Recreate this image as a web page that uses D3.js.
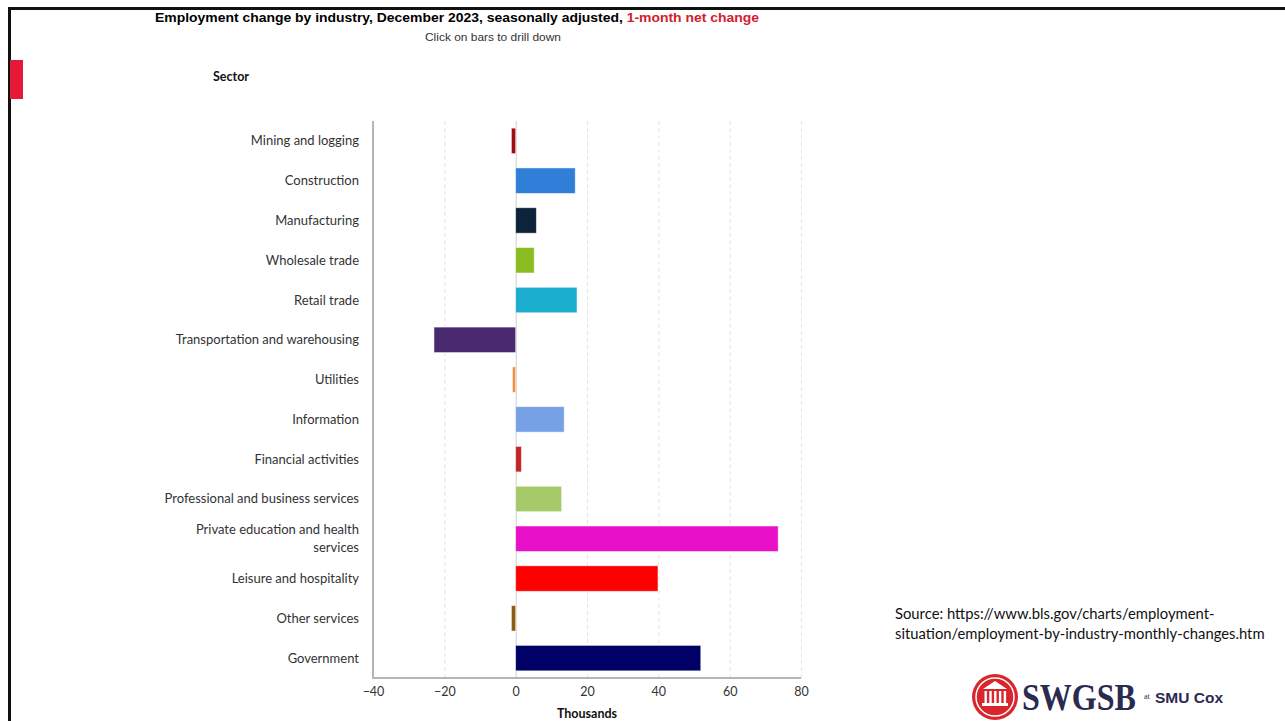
<!DOCTYPE html>
<html>
<head>
<meta charset="utf-8">
<script src="https://cdn.jsdelivr.net/npm/d3@7"></script>
<style>
  body { margin: 0; background: #fff; }
  svg { display: block; }
  .cat { font-family: Lato, "Open Sans", sans-serif; font-size: 13px; fill: #333; }
  .tick-label { font-family: Lato, "Open Sans", sans-serif; font-size: 12.5px; fill: #333; }
</style>
</head>
<body>
<div class="chart"></div>
<script>
// Data (thousands, 1-month net change)
var sectors = [
  "Mining and logging", "Construction", "Manufacturing", "Wholesale trade",
  "Retail trade", "Transportation and warehousing", "Utilities", "Information",
  "Financial activities", "Professional and business services",
  "Private education and health services", "Leisure and hospitality",
  "Other services", "Government"
];
var changes = [-1.2, 16.7, 5.8, 5.2, 17.2, -22.9, -0.9, 13.6, 1.6, 12.9, 73.6, 39.9, -1.2, 51.9];
var barColors = ["#a00d0d", "#2f7ed8", "#0d233a", "#8bbc21", "#1aadce", "#492970", "#f28f43",
  "#77a1e5", "#c42525", "#a6c96a", "#e810c9", "#ff0000", "#8c5a10", "#000066"];
var xTicks = [-40, -20, 0, 20, 40, 60, 80];

var svgWidth = 1285;
var svgHeight = 721;
var plot = { left: 373, right: 801, top: 121, bottom: 678 };

var svg = d3.select(".chart").append("svg")
  .attr("width", svgWidth)
  .attr("height", svgHeight);

// slide frame
svg.append("path")
  .attr("d", "M9.5,721 V8.5 H1285")
  .attr("fill", "none")
  .attr("stroke", "#111")
  .attr("stroke-width", 3);
svg.append("rect").attr("x", 10).attr("y", 60).attr("width", 13).attr("height", 39).attr("fill", "#e31937");

// scales
var x = d3.scaleLinear().domain([-40, 80]).range([plot.left, plot.right]);
var y = d3.scaleBand().domain(sectors).range([plot.top, plot.bottom])
  .paddingInner(0.36).paddingOuter(0.18);

// title
var title = svg.append("text")
  .attr("x", 457).attr("y", 22)
  .attr("text-anchor", "middle")
  .style("font-family", "'Liberation Sans', Arial, sans-serif")
  .style("font-size", "13px")
  .style("font-weight", "bold")
  .attr("textLength", 604)
  .attr("lengthAdjust", "spacingAndGlyphs");
title.append("tspan").attr("fill", "#000").text("Employment change by industry, December 2023, seasonally adjusted, ");
title.append("tspan").attr("fill", "#d0202e").text("1-month net change");

svg.append("text")
  .attr("x", 493).attr("y", 41)
  .attr("text-anchor", "middle")
  .style("font-family", "'Liberation Sans', Arial, sans-serif")
  .style("font-size", "11.5px")
  .attr("fill", "#333")
  .attr("textLength", 136)
  .attr("lengthAdjust", "spacingAndGlyphs")
  .text("Click on bars to drill down");

svg.append("text")
  .attr("x", 231).attr("y", 81)
  .attr("text-anchor", "middle")
  .style("font-family", "Lato, sans-serif")
  .style("font-size", "12.5px")
  .style("font-weight", "bold")
  .attr("fill", "#111")
  .text("Sector");

// gridlines
var grid = svg.append("g");
grid.selectAll("line")
  .data(xTicks.filter(function (d) { return d !== -40 && d !== 0; }))
  .enter().append("line")
  .attr("x1", function (d) { return x(d) + 0.5; })
  .attr("x2", function (d) { return x(d) + 0.5; })
  .attr("y1", plot.top)
  .attr("y2", plot.bottom)
  .attr("stroke", "#e4e4e4")
  .attr("stroke-dasharray", "4,3");

// zero line
svg.append("line")
  .attr("x1", x(0) + 0.5).attr("x2", x(0) + 0.5)
  .attr("y1", plot.top).attr("y2", plot.bottom)
  .attr("stroke", "#cfcfcf");

// bars
svg.append("g").selectAll("rect")
  .data(changes)
  .enter().append("rect")
  .attr("x", function (d) { return x(Math.min(0, d)); })
  .attr("y", function (d, i) { return y(sectors[i]); })
  .attr("width", function (d) { return Math.abs(x(d) - x(0)); })
  .attr("height", y.bandwidth())
  .attr("fill", function (d, i) { return barColors[i]; })
  .attr("stroke", "#ffffff")
  .attr("stroke-opacity", 0.6)
  .attr("stroke-width", 0.8);

// axis lines
svg.append("line")
  .attr("x1", plot.left).attr("x2", plot.left)
  .attr("y1", plot.top).attr("y2", plot.bottom + 1)
  .attr("stroke", "#b5b5b5").attr("stroke-width", 2);
svg.append("line")
  .attr("x1", plot.left).attr("x2", plot.right)
  .attr("y1", plot.bottom).attr("y2", plot.bottom)
  .attr("stroke", "#b5b5b5").attr("stroke-width", 2);

// x axis tick labels
var bottomAxis = d3.axisBottom(x).tickValues(xTicks).tickSize(0).tickPadding(8)
  .tickFormat(function (d) { return d < 0 ? "\u2212" + Math.abs(d) : d; });
var xg = svg.append("g").attr("transform", "translate(0," + (plot.bottom + 1) + ")").call(bottomAxis);
xg.select(".domain").remove();
xg.selectAll("text").attr("class", "tick-label").attr("fill", "#333").style("font-family", null).style("font-size", null);
xg.attr("font-family", null).attr("font-size", null);

svg.append("text")
  .attr("x", 587).attr("y", 718)
  .attr("text-anchor", "middle")
  .style("font-family", "Lato, sans-serif")
  .style("font-size", "12.5px")
  .style("font-weight", "bold")
  .attr("fill", "#111")
  .text("Thousands");

// category labels
var catG = svg.append("g");
sectors.forEach(function (s) {
  var cy = y(s) + y.bandwidth() / 2;
  var lines = s === "Private education and health services"
    ? ["Private education and health", "services"] : [s];
  var t = catG.append("text").attr("class", "cat").attr("text-anchor", "end");
  lines.forEach(function (ln, k) {
    t.append("tspan")
      .attr("x", 359)
      .attr("y", cy + 4.5 + (k - (lines.length - 1) / 2) * 18)
      .text(ln);
  });
});

// source note
var src = svg.append("text")
  .style("font-family", "Lato, 'Open Sans', sans-serif")
  .style("font-size", "14.8px")
  .attr("fill", "#111");
src.append("tspan").attr("x", 895).attr("y", 619).text("Source: https://www.bls.gov/charts/employment-");
src.append("tspan").attr("x", 895).attr("y", 639).text("situation/employment-by-industry-monthly-changes.htm");

// logo
var logo = svg.append("g");
logo.append("circle").attr("cx", 995).attr("cy", 697).attr("r", 23).attr("fill", "#d8262c");
logo.append("circle").attr("cx", 995).attr("cy", 697).attr("r", 19).attr("fill", "none").attr("stroke", "#fff").attr("stroke-width", 1.5);
logo.append("path").attr("d", "M983,689 L995,681 L1007,689 Z").attr("fill", "#fff");
d3.range(5).forEach(function (k) {
  logo.append("rect").attr("x", 984.5 + k * 4.8).attr("y", 691).attr("width", 2.4).attr("height", 12).attr("fill", "#fff");
});
logo.append("rect").attr("x", 982).attr("y", 703).attr("width", 26).attr("height", 3).attr("fill", "#fff");
logo.append("text")
  .attr("transform", "translate(1022,710) scale(1,1.2)")
  .style("font-family", "'Liberation Serif', serif")
  .style("font-size", "32px")
  .style("font-weight", "bold")
  .attr("fill", "#2b2a4f")
  .text("SWGSB");
logo.append("text")
  .attr("x", 1144).attr("y", 699)
  .style("font-family", "'Liberation Serif', serif")
  .style("font-size", "8px")
  .attr("fill", "#2b2a4f")
  .text("at");
logo.append("text")
  .attr("x", 1155).attr("y", 703)
  .style("font-family", "'Liberation Sans', Arial, sans-serif")
  .style("font-size", "15.5px")
  .style("font-weight", "bold")
  .attr("fill", "#2b2a4f")
  .text("SMU Cox");
</script>
</body>
</html>
